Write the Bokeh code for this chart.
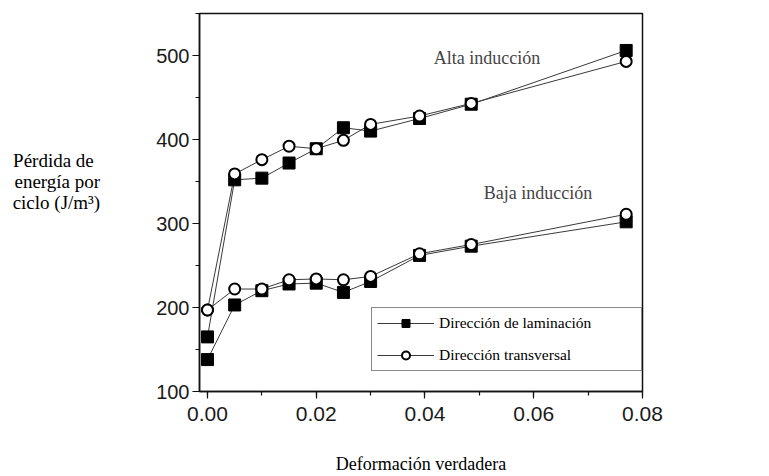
from bokeh.plotting import figure
from bokeh.models import (Range1d, SingleIntervalTicker, NumeralTickFormatter, Label,
                          Legend, LegendItem)
from bokeh.embed import file_html
from bokeh.resources import INLINE

strain = [0.0, 0.005, 0.01, 0.015, 0.02, 0.025, 0.03, 0.039, 0.0485, 0.077]
alta_laminacion = [165, 352, 354, 372, 389, 414, 410, 425, 442, 506]
alta_transversal = [197, 359, 376, 392, 389, 399, 418, 428, 443, 493]
baja_laminacion = [138, 203, 220, 228, 229, 218, 231, 262, 273, 302]
baja_transversal = [197, 222, 222, 233, 234, 233, 237, 264, 275, 311]

serie_labels = ["Dirección de laminación", "Dirección transversal"]
curve_labels = ["Alta inducción", "Baja inducción"]
x_title = "Deformación verdadera"
y_title = ["Pérdida de", "energía por", "ciclo (J/m³)"]

SERIF = "Liberation Serif"
SANS = "Liberation Sans"

p = figure(width=769, height=476, output_backend="svg", toolbar_location=None,
           x_range=Range1d(-0.00147, 0.08), y_range=Range1d(100, 550),
           min_border_left=199, min_border_right=127, min_border_top=13, min_border_bottom=84)
p.background_fill_color = "white"
p.border_fill_color = "white"
p.grid.visible = False
p.outline_line_color = "#111111"
p.outline_line_width = 1.5

p.xaxis.ticker = SingleIntervalTicker(interval=0.02, num_minor_ticks=2)
p.yaxis.ticker = SingleIntervalTicker(interval=100, num_minor_ticks=2)
p.xaxis.formatter = NumeralTickFormatter(format="0.00")
for ax in (p.xaxis, p.yaxis):
    ax.axis_line_color = "#111111"
    ax.axis_line_width = 1.5
    ax.major_tick_line_color = "#111111"
    ax.minor_tick_line_color = "#111111"
    ax.major_tick_line_width = 1.2
    ax.minor_tick_line_width = 1.2
    ax.major_tick_out = 7
    ax.major_tick_in = 0
    ax.minor_tick_out = 4
    ax.minor_tick_in = 0
    ax.major_label_text_font = SANS
    ax.major_label_text_color = "#1a1a1a"
    ax.axis_label_text_font = SERIF
    ax.axis_label_text_font_style = "normal"
    ax.axis_label_text_color = "black"
p.xaxis.major_label_text_font_size = "21px"
p.yaxis.major_label_text_font_size = "20px"
p.xaxis.major_label_standoff = 8
p.yaxis.major_label_standoff = 3

p.xaxis.axis_label = x_title
p.xaxis.axis_label_text_font_size = "18px"
p.xaxis.axis_label_standoff = 30

# lines are right-aligned by the axis; pad the shortest line so all start together
y_lines = [y_title[0] + "\u00a0\u200a", y_title[1], y_title[2], " ", " "]
p.yaxis.axis_label = "\n".join(y_lines)
p.yaxis.axis_label_orientation = "horizontal"
p.yaxis.axis_label_text_font_size = "19px"
p.yaxis.axis_label_text_line_height = 1.0
p.yaxis.axis_label_text_align = "left"
p.yaxis.axis_label_standoff = 53

line_kw = dict(line_color="#3a3a3a", line_width=1)
sq_kw = dict(marker="square", size=12, fill_color="black", line_color="black", line_width=1)
ci_kw = dict(marker="circle", size=11, fill_color="white", line_color="black", line_width=2)

l1 = p.line(strain, alta_laminacion, **line_kw)
l2 = p.line(strain, alta_transversal, **line_kw)
l3 = p.line(strain, baja_laminacion, **line_kw)
l4 = p.line(strain, baja_transversal, **line_kw)
s1 = p.scatter(strain, alta_laminacion, **sq_kw)
s3 = p.scatter(strain, baja_laminacion, **sq_kw)
c2 = p.scatter(strain, alta_transversal, **ci_kw)
c4 = p.scatter(strain, baja_transversal, **ci_kw)

legend = Legend(items=[LegendItem(label=serie_labels[0], renderers=[l1, s1]),
                       LegendItem(label=serie_labels[1], renderers=[l2, c2])],
                location=(172, 20))
legend.label_text_font = SERIF
legend.label_text_font_size = "15.5px"
legend.label_text_color = "black"
legend.glyph_width = 57
legend.glyph_height = 20
legend.label_height = 20
legend.label_width = 197
legend.label_standoff = 5
legend.padding = 5
legend.spacing = 12
legend.margin = 0
legend.border_line_color = "#111111"
legend.border_line_width = 1.2
legend.background_fill_alpha = 1
p.add_layout(legend, "center")

p.add_layout(Label(x=0.0416, y=497.6, text=curve_labels[0], text_font=SERIF,
                   text_font_size="18px", text_baseline="middle", text_align="left"))
p.add_layout(Label(x=0.0508, y=336.5, text=curve_labels[1], text_font=SERIF,
                   text_font_size="18px", text_baseline="middle", text_align="left"))

open("out.html", "w").write(file_html(p, INLINE))
